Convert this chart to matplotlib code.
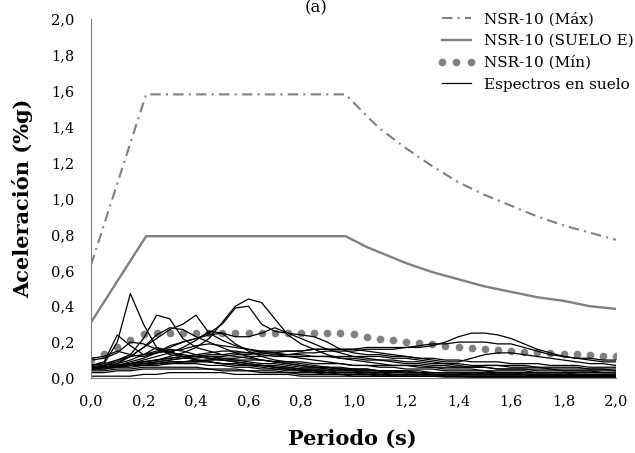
import numpy as np
import matplotlib.pyplot as plt

# NSR-10 design spectra
t_nsr = [0.0, 0.21, 0.97, 1.05, 1.1, 1.2, 1.3, 1.4, 1.5, 1.6, 1.7, 1.8, 1.9, 2.0]
sa_max = [0.63, 1.58, 1.58, 1.46, 1.39, 1.28, 1.18, 1.09, 1.02, 0.96, 0.90, 0.85, 0.81, 0.77]
sa_suelo_e = [0.31, 0.79, 0.79, 0.73, 0.70, 0.64, 0.59, 0.55, 0.51, 0.48, 0.45, 0.43, 0.40, 0.385]

t_min = [0.0, 0.05, 0.10, 0.15, 0.20, 0.25, 0.30, 0.35, 0.40, 0.45, 0.50, 0.55, 0.60, 0.65,
         0.70, 0.75, 0.80, 0.85, 0.90, 0.95, 1.00, 1.05, 1.10, 1.15, 1.20, 1.25, 1.30, 1.35,
         1.40, 1.45, 1.50, 1.55, 1.60, 1.65, 1.70, 1.75, 1.80, 1.85, 1.90, 1.95, 2.00]
sa_min = [0.10, 0.135, 0.17, 0.21, 0.245, 0.25, 0.25, 0.25, 0.25, 0.25, 0.25, 0.25, 0.25, 0.25,
          0.25, 0.25, 0.25, 0.25, 0.25, 0.25, 0.243, 0.231, 0.22, 0.211, 0.202, 0.194, 0.187, 0.18,
          0.173, 0.167, 0.162, 0.156, 0.152, 0.147, 0.143, 0.139, 0.135, 0.131, 0.128, 0.124, 0.121]

# ground response spectra, sampled every 0.05 s
periods = t_min
spectra = [
    [.07, .08, .20, .47, .30, .17, .13, .12, .10, .09, .08, .07, .07, .06, .05, .05, .04, .04, .03, .03, .03,
     .03, .03, .02, .02, .02, .02, .02, .02, .02, .02, .02, .02, .02, .01, .01, .01, .01, .01, .01, .01],
    [.07, .09, .24, .18, .13, .17, .15, .12, .10, .09, .08, .08, .07, .07, .06, .06, .05, .05, .05, .04, .04,
     .04, .04, .04, .03, .03, .03, .03, .03, .03, .03, .02, .02, .02, .02, .02, .02, .02, .02, .02, .02],
    [.06, .07, .10, .13, .22, .35, .33, .22, .17, .15, .13, .12, .11, .10, .09, .08, .07, .06, .06, .05, .05,
     .05, .04, .04, .04, .04, .03, .03, .03, .03, .03, .03, .03, .02, .02, .02, .02, .02, .02, .02, .02],
    [.06, .07, .08, .12, .17, .22, .27, .30, .35, .25, .21, .18, .16, .14, .13, .12, .11, .10, .09, .08, .07,
     .07, .06, .06, .05, .05, .05, .04, .04, .04, .04, .03, .03, .03, .03, .03, .03, .02, .02, .02, .02],
    [.06, .06, .07, .08, .09, .10, .12, .14, .17, .22, .31, .40, .44, .42, .33, .24, .19, .16, .13, .11, .10,
     .09, .08, .07, .07, .06, .06, .05, .05, .05, .04, .04, .04, .04, .03, .03, .03, .03, .03, .03, .03],
    [.05, .06, .08, .10, .13, .15, .17, .20, .22, .25, .30, .39, .40, .30, .26, .25, .22, .19, .16, .14, .12,
     .11, .10, .09, .08, .08, .07, .07, .06, .06, .06, .05, .05, .05, .04, .04, .04, .04, .04, .03, .03],
    [.05, .06, .07, .09, .11, .14, .18, .20, .22, .24, .25, .23, .23, .25, .28, .25, .24, .23, .20, .16, .14,
     .13, .13, .12, .12, .11, .11, .10, .10, .09, .09, .09, .08, .08, .08, .07, .07, .07, .06, .06, .06],
    [.06, .06, .07, .07, .08, .08, .09, .09, .10, .10, .11, .11, .12, .12, .13, .13, .14, .14, .15, .15, .15,
     .16, .16, .16, .17, .17, .18, .20, .23, .25, .25, .24, .22, .19, .16, .14, .12, .11, .11, .10, .10],
    [.05, .06, .06, .07, .08, .09, .10, .11, .12, .13, .13, .14, .14, .15, .15, .15, .15, .16, .16, .16, .16,
     .17, .17, .17, .17, .18, .19, .19, .20, .20, .20, .19, .19, .17, .15, .13, .12, .11, .10, .09, .09],
    [.05, .05, .06, .07, .08, .09, .10, .11, .11, .12, .12, .13, .13, .14, .14, .15, .15, .16, .16, .16, .16,
     .15, .14, .13, .12, .11, .10, .09, .09, .11, .13, .14, .14, .13, .12, .11, .10, .09, .08, .08, .07],
    [.07, .08, .10, .12, .13, .14, .15, .16, .18, .19, .18, .17, .16, .15, .14, .13, .13, .12, .12, .11, .11,
     .10, .10, .10, .09, .09, .08, .08, .08, .07, .07, .07, .07, .07, .06, .06, .06, .06, .05, .05, .05],
    [.06, .07, .09, .12, .17, .24, .28, .27, .23, .20, .17, .14, .12, .10, .09, .08, .07, .06, .06, .05, .05,
     .04, .04, .04, .03, .03, .03, .03, .03, .02, .02, .02, .02, .02, .02, .02, .01, .01, .01, .01, .01],
    [.06, .06, .07, .08, .10, .12, .14, .17, .21, .26, .25, .19, .15, .12, .10, .09, .08, .07, .06, .06, .05,
     .05, .04, .04, .04, .03, .03, .03, .03, .03, .02, .02, .02, .02, .02, .02, .02, .02, .01, .01, .01],
    [.10, .11, .14, .20, .19, .16, .14, .13, .12, .11, .10, .09, .08, .07, .07, .06, .05, .05, .04, .04, .04,
     .03, .03, .03, .03, .03, .02, .02, .02, .02, .02, .02, .02, .02, .02, .01, .01, .01, .01, .01, .01],
    [.11, .12, .15, .13, .12, .14, .16, .15, .13, .12, .11, .10, .09, .08, .08, .07, .06, .06, .05, .05, .04,
     .04, .04, .04, .03, .03, .03, .03, .03, .02, .02, .02, .02, .02, .02, .02, .02, .01, .01, .01, .01],
    [.05, .06, .06, .07, .07, .08, .08, .09, .09, .09, .08, .08, .07, .07, .06, .05, .05, .04, .04, .03, .03,
     .03, .02, .02, .02, .02, .02, .01, .01, .01, .01, .01, .01, .01, .01, .01, .01, .01, .01, .01, .01],
    [.06, .06, .07, .08, .09, .10, .11, .12, .12, .11, .10, .09, .08, .07, .06, .05, .04, .04, .03, .03, .03,
     .02, .02, .02, .02, .02, .02, .01, .01, .01, .01, .01, .01, .01, .01, .01, .01, .01, .01, .01, .01],
    [.04, .04, .05, .05, .06, .06, .06, .06, .06, .05, .05, .05, .04, .04, .04, .03, .03, .03, .02, .02, .02,
     .02, .02, .01, .01, .01, .01, .01, .01, .01, .01, .01, .01, .01, .01, .01, .01, .01, .01, .01, .01],
    [.01, .01, .01, .01, .02, .02, .03, .03, .03, .03, .03, .02, .02, .02, .02, .02, .01, .01, .01, .01, .01,
     .01, .01, .01, .01, .01, .01, .005, .005, .005, .005, .005, .005, .005, .005, .005, .005, .005, .005, .005, .005],
    [.06, .06, .07, .08, .09, .10, .11, .12, .13, .14, .15, .15, .14, .13, .12, .12, .12, .12, .12, .12, .12,
     .12, .12, .11, .11, .10, .09, .08, .07, .06, .06, .05, .05, .05, .05, .05, .04, .04, .04, .04, .04],
    [.06, .06, .07, .07, .08, .08, .09, .09, .09, .10, .10, .10, .10, .10, .09, .09, .09, .08, .08, .08, .07,
     .07, .07, .07, .07, .07, .06, .06, .06, .06, .07, .07, .06, .06, .06, .05, .05, .05, .05, .05, .04],
    [.05, .05, .06, .06, .07, .07, .08, .08, .08, .07, .07, .06, .06, .05, .05, .04, .04, .03, .03, .02, .02,
     .02, .01, .01, .01, .01, .01, .01, .01, .005, .005, .005, .005, .005, .005, .005, .005, .005, .005, .005, .005],
    [.03, .03, .04, .04, .05, .05, .05, .05, .05, .05, .04, .04, .04, .03, .03, .03, .02, .02, .02, .02, .01,
     .01, .01, .01, .01, .01, .01, .01, .01, .01, .01, .01, .01, .01, .01, .01, .01, .01, .01, .01, .01],
]

xticks = [0.0, 0.2, 0.4, 0.6, 0.8, 1.0, 1.2, 1.4, 1.6, 1.8, 2.0]
yticks = [0.0, 0.2, 0.4, 0.6, 0.8, 1.0, 1.2, 1.4, 1.6, 1.8, 2.0]

plt.rcParams['font.family'] = ['DejaVu Serif']
gray = '#808080'

fig = plt.figure(figsize=(6.35, 4.53), dpi=100)
ax = fig.add_axes([91 / 635, 1 - 378 / 453, 525 / 635, 359 / 453])

ax.plot(t_nsr, sa_max, color=gray, lw=1.5, dashes=(5, 2.5, 1, 2.5), label='NSR-10 (Máx)')
ax.plot(t_nsr, sa_suelo_e, color=gray, lw=1.7, label='NSR-10 (SUELO E)')
ax.plot(t_min, sa_min, 'o', color=gray, ms=5.5, mec='none', label='NSR-10 (Mín)')
for i, s in enumerate(spectra):
    ax.plot(periods, s, color='black', lw=0.9,
            label='Espectros en suelo' if i == 0 else None)

ax.set_xlim(0, 2.0)
ax.set_ylim(0, 2.0)
ax.set_xticks(xticks)
ax.set_yticks(yticks)
ax.set_xticklabels([f'{v:.1f}'.replace('.', ',') for v in xticks])
ax.set_yticklabels([f'{v:.1f}'.replace('.', ',') for v in yticks])
ax.tick_params(length=0, labelsize=10.5, pad=12)
for side in ['top', 'right']:
    ax.spines[side].set_visible(False)
ax.spines['left'].set_color(gray)
ax.spines['bottom'].set_color(gray)

ax.set_xlabel('Periodo (s)', fontsize=15, fontweight='bold', va='center')
ax.xaxis.set_label_coords(0.497, -0.17)
ax.set_ylabel('Aceleración (%g)', fontsize=15, fontweight='bold', va='center')
ax.yaxis.set_label_coords(-0.13, 0.5)

fig.text(316 / 635, 1 - 12 / 453, '(a)', ha='center', va='baseline', fontsize=12)

ax.legend(loc='upper left', bbox_to_anchor=(437 / 635, 1 - 12 / 453),
          bbox_transform=fig.transFigure, frameon=False, fontsize=11,
          borderaxespad=0, borderpad=0, handlelength=2.5, handletextpad=0.6,
          labelspacing=0.5, numpoints=3)

fig.savefig('out.png', dpi=100)
